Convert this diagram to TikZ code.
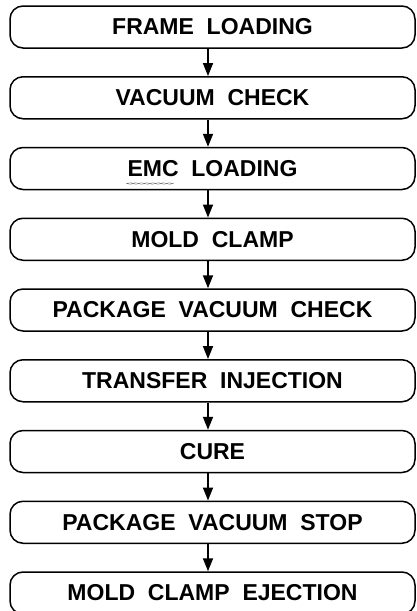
\documentclass[tikz,border=0pt]{standalone}
\usepackage{fontspec}
\setmainfont{Liberation Sans}
\usetikzlibrary{arrows.meta,decorations.pathmorphing}
\begin{document}
\begin{tikzpicture}[x=1pt,y=-1pt,
  stepbox/.style={draw=black, line width=1.5pt, rounded corners=13pt,
    minimum width=405pt, minimum height=42pt, inner sep=0pt,
    font=\fontsize{23}{27}\selectfont\bfseries},
  flow/.style={line width=1.8pt, -{Triangle[length=13pt,width=10pt]}}]
\useasboundingbox (0,0) rectangle (417,611);
\node[stepbox] (n1) at (212.5,27) {FRAME\ \ LOADING};
\node[stepbox] (n2) at (212.5,97.75) {VACUUM\ \ CHECK};
\node[stepbox] (n3) at (212.5,168.5) {EMC\ \ LOADING};
\node[stepbox] (n4) at (212.5,239.25) {MOLD\ \ CLAMP};
\node[stepbox] (n5) at (212.5,310) {PACKAGE\ \ VACUUM\ \ CHECK};
\node[stepbox] (n6) at (212.5,380.75) {TRANSFER\ \ INJECTION};
\node[stepbox] (n7) at (212.5,451.5) {CURE};
\node[stepbox] (n8) at (212.5,522.25) {PACKAGE\ \ VACUUM\ \ STOP};
\node[stepbox] (n9) at (212.5,593) {MOLD\ \ CLAMP\ \ EJECTION};
\foreach \a/\b in {n1/n2,n2/n3,n3/n4,n4/n5,n5/n6,n6/n7,n7/n8,n8/n9}
  \draw[flow] ([xshift=-4.5pt]\a.south) -- ([xshift=-4.5pt]\b.north);
\draw[black!70, line width=0.6pt, densely dotted,
  decorate, decoration={zigzag, amplitude=0.8pt, segment length=2pt}]
  ([shift={(-86pt,-15pt)}]n3.center) -- ([shift={(-39pt,-15pt)}]n3.center);
\end{tikzpicture}
\end{document}
